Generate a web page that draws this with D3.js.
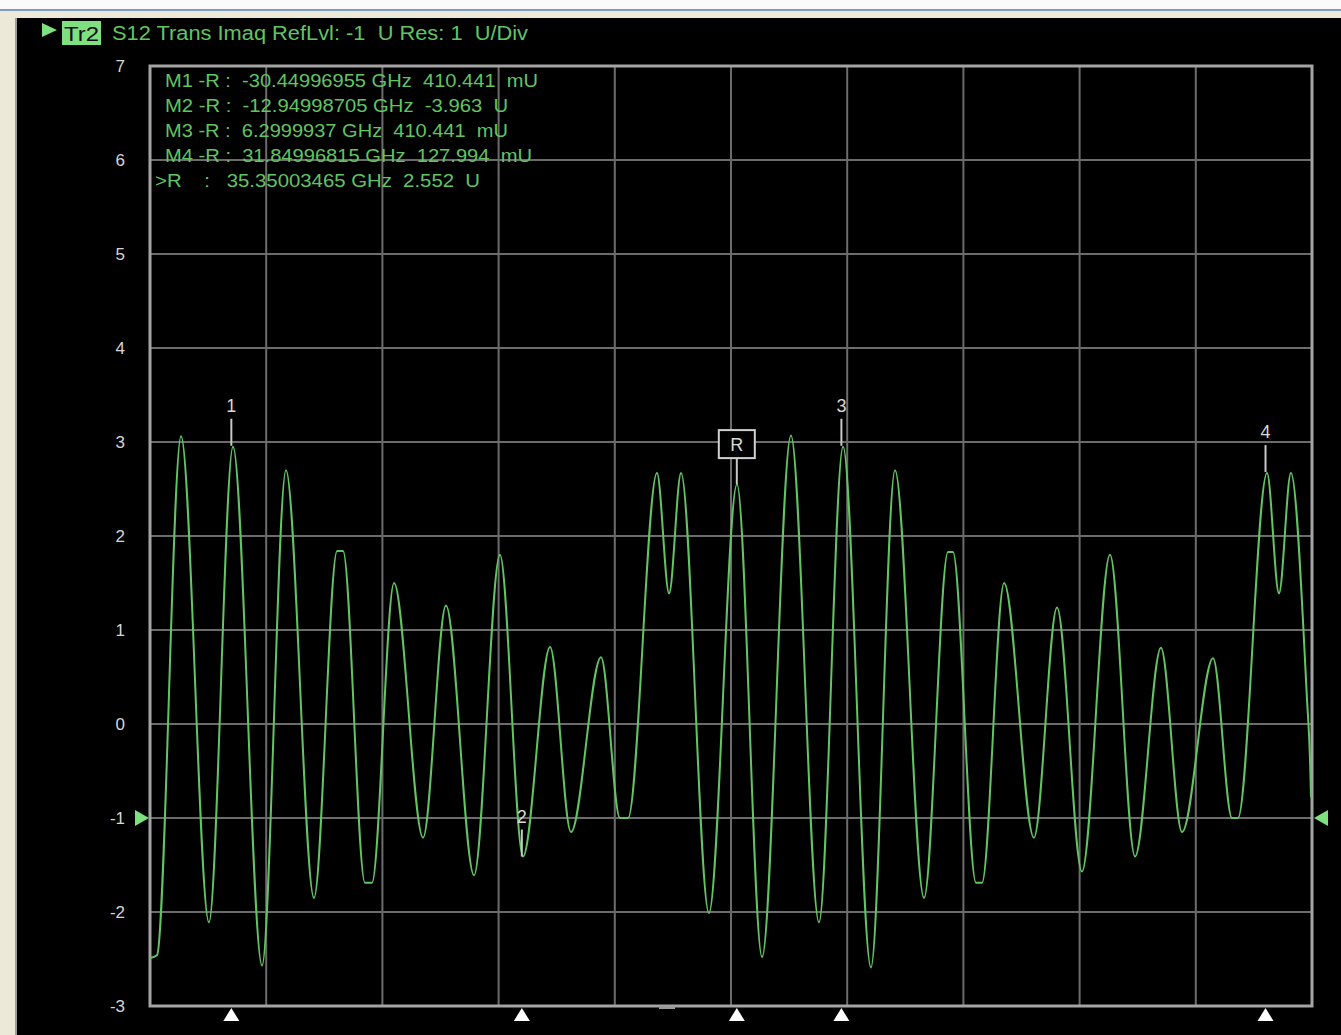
<!DOCTYPE html>
<html lang="en">
<head>
<meta charset="UTF-8">
<script src="https://d3js.org/d3.v7.min.js"></script>
<title>S12 Trans Imag</title>
<style>
  html, body { margin: 0; padding: 0; background: #000; overflow: hidden; }
  text { font-family: "Liberation Sans", Arial, sans-serif; white-space: pre; }
</style>
</head>
<body>
<script>
// trace extremes (GHz, U)
var freqGHz = [0.0, 0.42, 1.87, 3.55, 5.0, 6.75, 8.19, 9.88, 11.27, 11.63, 12.95, 13.37,
  14.7, 16.45, 17.83, 19.52, 21.08, 22.47, 24.1, 25.36, 27.17, 28.31, 28.8,
  30.54, 31.27, 31.99, 33.67, 35.36, 36.87, 38.61, 40.3, 41.75, 43.43, 44.88,
  46.63, 48.07, 48.37, 49.76, 50.12, 51.45, 53.25, 54.64, 56.14, 57.83, 59.34,
  60.9, 62.17, 64.04, 65.18, 65.54, 67.29, 68.01, 68.73, 69.7, 69.88, 69.94];
var imagU = [-2.49, -2.46, 3.06, -2.11, 2.95, -2.57, 2.7, -1.85, 1.84, 1.84, -1.69, -1.69,
  1.5, -1.21, 1.26, -1.61, 1.8, -1.41, 0.82, -1.15, 0.71, -1.0, -1.0,
  2.67, 1.39, 2.67, -2.01, 2.55, -2.48, 3.07, -2.11, 2.95, -2.59, 2.7,
  -1.85, 1.83, 1.83, -1.69, -1.69, 1.5, -1.21, 1.24, -1.57, 1.8, -1.41,
  0.81, -1.15, 0.7, -1.0, -1.0, 2.67, 1.39, 2.67, 0.26, -0.38, -0.78];

var markerNames = ["1", "2", "3", "4", "R"];
var markerFreq = [4.9, 22.4, 41.65, 67.2, 35.35];
var markerVal = [2.96, -1.41, 2.96, 2.68, 2.552];

var readouts = [
  "M1 -R :  -30.44996955 GHz  410.441  mU",
  "M2 -R :  -12.94998705 GHz  -3.963  U",
  "M3 -R :  6.2999937 GHz  410.441  mU",
  "M4 -R :  31.84996815 GHz  127.994  mU",
  ">R    :   35.35003465 GHz  2.552  U"
];

var yTicks = [7, 6, 5, 4, 3, 2, 1, 0, -1, -2, -3];
var refLevel = -1;

var width = 1341, height = 1035;
var plotLeft = 150, plotRight = 1312, plotTop = 66, plotBottom = 1006;
var green = "#62c462";

var svg = d3.select("body").append("svg")
  .attr("width", width)
  .attr("height", height);

// window chrome
svg.append("rect").attr("width", width).attr("height", height).attr("fill", "#000");
svg.append("rect").attr("width", width).attr("height", 10).attr("fill", "#fbfbfb");
svg.append("rect").attr("y", 9).attr("width", width).attr("height", 2).attr("fill", "#7f9dc4");
svg.append("rect").attr("y", 11).attr("width", width).attr("height", 7).attr("fill", "#ece9d8");
svg.append("rect").attr("y", 11).attr("width", 15).attr("height", height).attr("fill", "#ece9d8");
svg.append("rect").attr("x", 15).attr("y", 18).attr("width", 2).attr("height", height).attr("fill", "#9d9d9d");

var x = d3.scaleLinear().domain([0, 70]).range([plotLeft, plotRight]);
var y = d3.scaleLinear().domain([-3, 7]).range([plotBottom, plotTop]);

// grid
var g = svg.append("g");
g.selectAll("line.h").data(yTicks).enter().append("line")
  .attr("x1", plotLeft).attr("x2", plotRight)
  .attr("y1", function (d) { return y(d); }).attr("y2", function (d) { return y(d); })
  .attr("stroke", "#6c6c6c").attr("stroke-width", 2);
g.selectAll("line.v").data(d3.range(0, 71, 7)).enter().append("line")
  .attr("y1", plotTop).attr("y2", plotBottom)
  .attr("x1", function (d) { return x(d); }).attr("x2", function (d) { return x(d); })
  .attr("stroke", "#6c6c6c").attr("stroke-width", 2);
g.append("rect")
  .attr("x", plotLeft).attr("y", plotTop)
  .attr("width", plotRight - plotLeft).attr("height", plotBottom - plotTop)
  .attr("fill", "none").attr("stroke", "#a4a4a4").attr("stroke-width", 3);

// y labels
svg.selectAll("text.ytick").data(yTicks).enter().append("text")
  .attr("class", "ytick")
  .attr("x", 125)
  .attr("y", function (d) { return y(d) + 6; })
  .attr("text-anchor", "end")
  .attr("fill", "#d6d6d6")
  .attr("font-size", 17)
  .text(function (d) { return d; });

// reference level arrows
svg.append("path")
  .attr("d", "M135," + (y(refLevel) - 8) + "L149," + y(refLevel) + "L135," + (y(refLevel) + 8) + "Z")
  .attr("fill", "#7ee07e");
svg.append("path")
  .attr("d", "M1328," + (y(refLevel) - 8) + "L1314," + y(refLevel) + "L1328," + (y(refLevel) + 8) + "Z")
  .attr("fill", "#7ee07e");

// trace
var pts = freqGHz.map(function (f, i) { return [f, imagU[i]]; });
var line = d3.line()
  .x(function (d) { return x(d[0]); })
  .y(function (d) { return y(d[1]); })
  .curve(d3.curveMonotoneX);
svg.append("path")
  .attr("d", line(pts))
  .attr("fill", "none")
  .attr("stroke", green)
  .attr("stroke-width", 2);

// markers
var mk = svg.selectAll("g.mk").data(markerNames).enter().append("g").attr("class", "mk");
mk.append("line")
  .attr("x1", function (d, i) { return x(markerFreq[i]); })
  .attr("x2", function (d, i) { return x(markerFreq[i]); })
  .attr("y1", function (d, i) { return y(markerVal[i]) - 27; })
  .attr("y2", function (d, i) { return y(markerVal[i]); })
  .attr("stroke", "#c8c8c8").attr("stroke-width", 2);
mk.filter(function (d) { return d === "R"; }).append("rect")
  .attr("x", x(markerFreq[4]) - 18)
  .attr("y", y(markerVal[4]) - 54)
  .attr("width", 36).attr("height", 28)
  .attr("fill", "#000").attr("stroke", "#d0d0d0").attr("stroke-width", 2);
mk.append("text")
  .attr("x", function (d, i) { return x(markerFreq[i]); })
  .attr("y", function (d, i) { return y(markerVal[i]) - (d === "R" ? 33 : 34); })
  .attr("text-anchor", "middle")
  .attr("fill", "#d8d8d8")
  .attr("font-size", 18)
  .text(function (d) { return d; });
// bottom triangles
mk.append("path")
  .attr("d", function (d, i) {
    var cx = x(markerFreq[i]);
    return "M" + (cx - 8) + ",1021L" + cx + ",1008L" + (cx + 8) + ",1021Z";
  })
  .attr("fill", "#fff");
svg.append("rect").attr("x", 659).attr("y", 1006).attr("width", 16).attr("height", 3).attr("fill", "#9a9a9a");

// header
svg.append("path").attr("d", "M42,23L57,30L42,37Z").attr("fill", "#7ee07e");
svg.append("rect").attr("x", 62).attr("y", 21).attr("width", 39).attr("height", 24).attr("fill", "#7ee07e");
svg.append("text").attr("x", 64).attr("y", 41).attr("font-size", 20).attr("fill", "#111")
  .attr("textLength", 35).attr("lengthAdjust", "spacingAndGlyphs").text("Tr2");
svg.append("text").attr("x", 112).attr("y", 40).attr("font-size", 20).attr("fill", green)
  .attr("textLength", 416).attr("lengthAdjust", "spacingAndGlyphs")
  .text("S12 Trans Imaq RefLvl: -1  U Res: 1  U/Div");

// marker readouts
var roX = [165, 165, 165, 165, 155];
var roW = [373, 343, 343, 367, 325];
svg.selectAll("text.ro").data(readouts).enter().append("text")
  .attr("class", "ro")
  .attr("x", function (d, i) { return roX[i]; })
  .attr("y", function (d, i) { return 87 + i * 25; })
  .attr("font-size", 19)
  .attr("fill", green)
  .attr("textLength", function (d, i) { return roW[i]; })
  .attr("lengthAdjust", "spacingAndGlyphs")
  .text(function (d) { return d; });
</script>
</body>
</html>
